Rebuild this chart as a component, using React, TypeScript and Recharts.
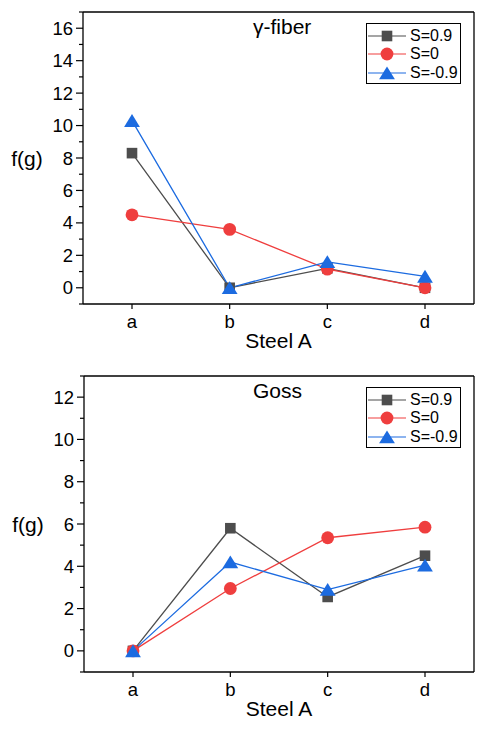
import { LineChart, Line, XAxis, YAxis, Legend } from 'recharts';

const categories = ['a', 'b', 'c', 'd'];
const seriesNames = ['S=0.9', 'S=0', 'S=-0.9'];

// γ-fiber panel
const gammaPos = [8.3, 0, 1.2, 0];
const gammaZero = [4.5, 3.6, 1.15, 0];
const gammaNeg = [10.3, 0, 1.6, 0.7];
const gammaTicks = [-1, 0, 1, 2, 3, 4, 5, 6, 7, 8, 9, 10, 11, 12, 13, 14, 15, 16, 17];

// Goss panel
const gossPos = [0, 5.8, 2.55, 4.5];
const gossZero = [0, 2.95, 5.35, 5.85];
const gossNeg = [0, 4.2, 2.9, 4.05];
const gossTicks = [-1, 0, 1, 2, 3, 4, 5, 6, 7, 8, 9, 10, 11, 12, 13];

const FONT = '"Liberation Sans", Arial, sans-serif';
const colors = ['#4d4d4d', '#ef3e3e', '#1c6be0'];
const shapes = ['square', 'circle', 'triangle'];

const W = 492;
const H = 365;

function Marker({ shape, color, cx, cy }: { shape: string; color: string; cx: number; cy: number }) {
  if (shape === 'square') {
    return <rect x={cx - 5.3} y={cy - 5.3} width={10.6} height={10.6} fill={color} />;
  }
  if (shape === 'circle') {
    return <circle cx={cx} cy={cy} r={6.4} fill={color} />;
  }
  return (
    <polygon
      points={`${cx},${cy - 6.6} ${cx + 7.9},${cy + 6.3} ${cx - 7.9},${cy + 6.3}`}
      fill={color}
    />
  );
}

const dotFor = (shape: string, color: string) => (props: any) => {
  const { cx, cy, index } = props;
  if (cx == null || cy == null) return <g key={`e-${index}`} />;
  return <Marker key={`${shape}-${index}`} shape={shape} color={color} cx={cx} cy={cy} />;
};

const YTick = (props: any) => {
  const { x, y, payload } = props;
  const v = payload.value;
  const major = v >= 0 && v % 2 === 0;
  return (
    <g>
      <line x1={x} x2={x - (major ? 7 : 4)} y1={y} y2={y} stroke="#000" strokeWidth={1.2} />
      {major && (
        <text x={x - 10} y={y + 6.5} textAnchor="end" fontSize={18.5} fontFamily={FONT} fill="#000">
          {v}
        </text>
      )}
    </g>
  );
};

const XTick = (props: any) => {
  const { x, y, payload } = props;
  return (
    <g>
      <line x1={x} x2={x} y1={y} y2={y + 5} stroke="#000" strokeWidth={1.2} />
      <text x={x} y={y + 24} textAnchor="middle" fontSize={18.5} fontFamily={FONT} fill="#000">
        {payload.value}
      </text>
    </g>
  );
};

const LegendBox = (props: any) => {
  const payload = [...(props.payload || [])].sort(
    (a: any, b: any) => seriesNames.indexOf(a.value) - seriesNames.indexOf(b.value)
  );
  return (
    <div
      style={{
        border: '1.3px solid #000',
        background: '#fff',
        boxSizing: 'border-box',
        width: 95,
        height: 61,
        paddingTop: 3,
        fontFamily: FONT,
        fontSize: 16,
        color: '#000',
      }}
    >
      {payload.map((entry: any) => {
        const i = seriesNames.indexOf(entry.value);
        return (
          <div key={entry.value} style={{ display: 'flex', alignItems: 'center', height: 18.3 }}>
            <svg width={42} height={18} style={{ display: 'block' }}>
              <line x1={1} x2={39} y1={9} y2={9} stroke={colors[i]} strokeWidth={1.2} />
              <Marker shape={shapes[i]} color={colors[i]} cx={20} cy={9} />
            </svg>
            <span style={{ marginLeft: 1, lineHeight: '18px' }}>{entry.value}</span>
          </div>
        );
      })}
    </div>
  );
};

function Panel({
  top,
  plotTop,
  plotBottom,
  plotLeft,
  domain,
  ticks,
  title,
  pos,
  zero,
  neg,
}: {
  top: number;
  plotTop: number;
  plotBottom: number;
  plotLeft: number;
  domain: [number, number];
  ticks: number[];
  title: string;
  pos: number[];
  zero: number[];
  neg: number[];
}) {
  const data = categories.map((cat, i) => ({ cat, pos: pos[i], zero: zero[i], neg: neg[i] }));
  const keys = ['pos', 'zero', 'neg'];
  const plotRight = 474;
  const yWidth = 40;
  const xHeight = 40;
  const midX = (plotLeft + plotRight) / 2;
  const midY = (plotTop + plotBottom) / 2;
  const boxLine = { stroke: '#000', strokeWidth: 1.3 };
  return (
    <div style={{ position: 'absolute', left: 0, top, width: W, height: H }}>
      <LineChart
        width={W}
        height={H}
        data={data}
        margin={{
          top: plotTop - 1,
          right: W - plotRight - 1,
          left: plotLeft - yWidth,
          bottom: H - plotBottom - xHeight,
        }}
      >
        <XAxis
          dataKey="cat"
          height={xHeight}
          padding={{ left: 49, right: 49 }}
          axisLine={boxLine}
          tickLine={false}
          tickSize={0}
          tickMargin={0}
          interval={0}
          tick={XTick}
        />
        <XAxis
          xAxisId="top"
          orientation="top"
          dataKey="cat"
          height={1}
          axisLine={boxLine}
          tickLine={false}
          tick={false}
        />
        <YAxis
          width={yWidth}
          type="number"
          domain={domain}
          ticks={ticks}
          interval={0}
          axisLine={boxLine}
          tickLine={false}
          tickSize={0}
          tickMargin={0}
          allowDataOverflow
          tick={YTick}
        />
        <YAxis
          yAxisId="right"
          orientation="right"
          type="number"
          domain={domain}
          width={1}
          axisLine={boxLine}
          tickLine={false}
          tick={false}
        />
        <Legend
          layout="horizontal"
          verticalAlign="middle"
          align="center"
          content={LegendBox}
          wrapperStyle={{ left: 366, top: plotTop + 11, width: 95, height: 61 }}
        />
        {keys.map((k, i) => (
          <Line
            key={k}
            dataKey={k}
            name={seriesNames[i]}
            stroke={colors[i]}
            strokeWidth={1.3}
            legendType={shapes[i] as any}
            dot={dotFor(shapes[i], colors[i])}
            activeDot={false}
            isAnimationActive={false}
          />
        ))}
        <text x={253} y={plotTop + 22} fontSize={21} fontFamily={FONT} fill="#000">
          {title}
        </text>
        <text x={midX} y={plotBottom + 44} textAnchor="middle" fontSize={21} fontFamily={FONT} fill="#000">
          Steel A
        </text>
        <text x={plotLeft - 56} y={midY + 8} textAnchor="middle" fontSize={21} fontFamily={FONT} fill="#000">
          f(g)
        </text>
      </LineChart>
    </div>
  );
}

export default function App() {
  return (
    <div style={{ position: 'absolute', left: 0, top: 0, width: W, height: 730, background: '#fff', overflow: 'hidden' }}>
      <Panel
        top={0}
        plotTop={12}
        plotBottom={304}
        plotLeft={83}
        domain={[-1, 17]}
        ticks={gammaTicks}
        title="γ-fiber"
        pos={gammaPos}
        zero={gammaZero}
        neg={gammaNeg}
      />
      <Panel
        top={365}
        plotTop={11}
        plotBottom={307}
        plotLeft={84}
        domain={[-1, 13]}
        ticks={gossTicks}
        title="Goss"
        pos={gossPos}
        zero={gossZero}
        neg={gossNeg}
      />
    </div>
  );
}
